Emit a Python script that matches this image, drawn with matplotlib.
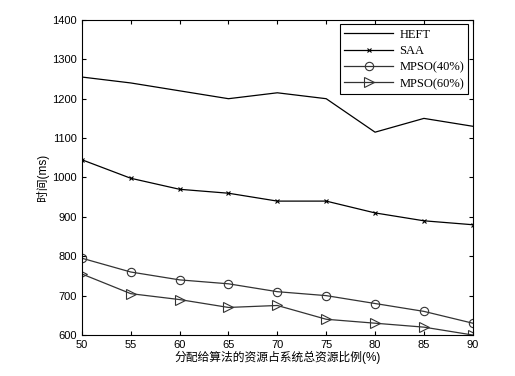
import matplotlib.pyplot as plt

plt.rcParams['font.family'] = ['Liberation Sans', 'Noto Sans CJK SC', 'DejaVu Sans']

x = [50, 55, 60, 65, 70, 75, 80, 85, 90]
heft = [1255, 1240, 1220, 1200, 1215, 1200, 1115, 1150, 1130]
saa = [1045, 998, 970, 960, 940, 940, 910, 890, 880]
mpso40 = [795, 760, 740, 730, 710, 700, 680, 660, 630]
mpso60 = [755, 705, 690, 670, 675, 640, 630, 620, 600]
labels = ['HEFT', 'SAA', 'MPSO(40%)', 'MPSO(60%)']

fig = plt.figure(figsize=(5.15, 3.76), dpi=100)
ax = fig.add_axes([0.159, 0.109, 0.759, 0.838])

ax.plot(x, heft, color='black', lw=0.9, label=labels[0])
ax.plot(x, saa, color='black', lw=0.9, marker='x', ms=3, mew=0.8, label=labels[1])
ax.plot(x, mpso40, color='#333333', lw=0.9, marker='o', ms=6, mfc='none', mew=0.8, label=labels[2])
ax.plot(x, mpso60, color='#333333', lw=0.9, marker='>', ms=7, mfc='none', mew=0.8, label=labels[3])

ax.set_xlim(50, 90)
ax.set_ylim(600, 1400)
ax.set_xticks(x)
ax.set_yticks(range(600, 1401, 100))
ax.tick_params(direction='in', labelsize=8, length=3, top=True, right=True)
for s in ax.spines.values():
    s.set_linewidth(0.8)

ax.set_xlabel('分配给算法的资源占系统总资源比例(%)', fontsize=8.5, labelpad=1)
ax.set_ylabel('时间(ms)', fontsize=8.5, labelpad=2)

leg = ax.legend(loc='upper right', prop={'family': 'Liberation Serif', 'size': 9},
                fancybox=False, edgecolor='black', framealpha=1,
                handlelength=3.9, handletextpad=0.5, borderaxespad=0.35,
                labelspacing=0.35, borderpad=0.35)
leg.get_frame().set_linewidth(0.8)

fig.savefig('out.png', dpi=100)
